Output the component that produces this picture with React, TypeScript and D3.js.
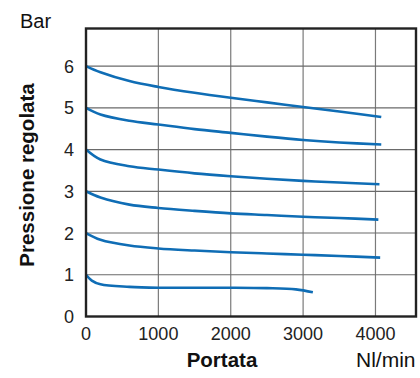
import React from "react";
import * as d3 from "d3";

// Regulated pressure (bar) against flow (Nl/min), one curve per set pressure
const flow6 = [0, 200, 600, 1000, 1500, 2000, 2500, 3000, 3500, 4080];
const bar6 = [6, 5.85, 5.64, 5.5, 5.36, 5.24, 5.13, 5.02, 4.91, 4.78];

const flow5 = [0, 200, 600, 1000, 1500, 2000, 2500, 3000, 3500, 4080];
const bar5 = [5, 4.84, 4.69, 4.6, 4.49, 4.4, 4.31, 4.23, 4.17, 4.12];

const flow4 = [0, 200, 600, 1000, 1500, 2000, 2500, 3000, 3500, 4055];
const bar4 = [4, 3.76, 3.6, 3.52, 3.43, 3.36, 3.3, 3.25, 3.21, 3.17];

const flow3 = [0, 200, 600, 1000, 1500, 2000, 2500, 3000, 3500, 4040];
const bar3 = [3, 2.85, 2.68, 2.6, 2.53, 2.47, 2.43, 2.39, 2.36, 2.32];

const flow2 = [0, 200, 600, 1000, 1500, 2000, 2500, 3000, 3500, 4065];
const bar2 = [2, 1.84, 1.7, 1.63, 1.58, 1.54, 1.51, 1.48, 1.45, 1.41];

const flow1 = [0, 80, 200, 600, 1000, 1500, 2000, 2500, 2900, 3135];
const bar1 = [1, 0.86, 0.77, 0.71, 0.69, 0.69, 0.69, 0.68, 0.65, 0.58];

const series = [
  { flow: flow6, bar: bar6 },
  { flow: flow5, bar: bar5 },
  { flow: flow4, bar: bar4 },
  { flow: flow3, bar: bar3 },
  { flow: flow2, bar: bar2 },
  { flow: flow1, bar: bar1 },
];

const xTicks = [0, 1000, 2000, 3000, 4000];
const yTicks = [0, 1, 2, 3, 4, 5, 6];

const W = 420;
const H = 378;
const left = 86;
const right = 416;
const top = 28.5;
const bottom = 316.5;

const font = "'Liberation Sans', Arial, Helvetica, sans-serif";

export default function App() {
  const x = d3.scaleLinear().domain([0, 4560]).range([left, right]);
  const y = d3.scaleLinear().domain([0, 6.9]).range([bottom, top]);
  const line = d3
    .line<[number, number]>()
    .x((d) => x(d[0]))
    .y((d) => y(d[1]))
    .curve(d3.curveCatmullRom.alpha(0.5));

  return (
    <svg
      width={W}
      height={H}
      style={{ position: "absolute", left: 0, top: 0, background: "#fff" }}
      fontFamily={font}
    >
      {/* grid */}
      {xTicks.slice(1).map((t) => (
        <line key={"gx" + t} x1={x(t)} x2={x(t)} y1={top} y2={bottom} stroke="#7a7a7a" strokeWidth={1.2} />
      ))}
      {yTicks.slice(1).map((t) => (
        <line key={"gy" + t} x1={left} x2={right} y1={y(t)} y2={y(t)} stroke="#6a6a6a" strokeWidth={1.2} />
      ))}

      {/* curves */}
      {series.map((s, i) => (
        <path
          key={i}
          d={line(s.flow.map((f, j) => [f, s.bar[j]] as [number, number])) || ""}
          fill="none"
          stroke="#0f6db5"
          strokeWidth={2.6}
          strokeLinecap="butt"
        />
      ))}

      {/* frame */}
      <rect x={left} y={top} width={right - left} height={bottom - top} fill="none" stroke="#222" strokeWidth={2.4} />

      {/* tick labels */}
      {xTicks.map((t) => (
        <text key={"tx" + t} x={x(t)} y={340} textAnchor="middle" fontSize={18} fill="#222">
          {t}
        </text>
      ))}
      {yTicks.map((t) => (
        <text key={"ty" + t} x={74} y={y(t) + 6.5} textAnchor="end" fontSize={18} fill="#222">
          {t}
        </text>
      ))}

      {/* axis titles */}
      <text x={20} y={28} fontSize={20} fill="#111">Bar</text>
      <text x={222} y={367} textAnchor="middle" fontSize={20.5} fontWeight="bold" fill="#111">
        Portata
      </text>
      <text x={356} y={367} fontSize={21} fill="#111">Nl/min</text>
      <text
        transform={`translate(34,175) rotate(-90)`}
        textAnchor="middle"
        fontSize={20.5}
        fontWeight="bold"
        fill="#111"
      >
        Pressione regolata
      </text>
    </svg>
  );
}
